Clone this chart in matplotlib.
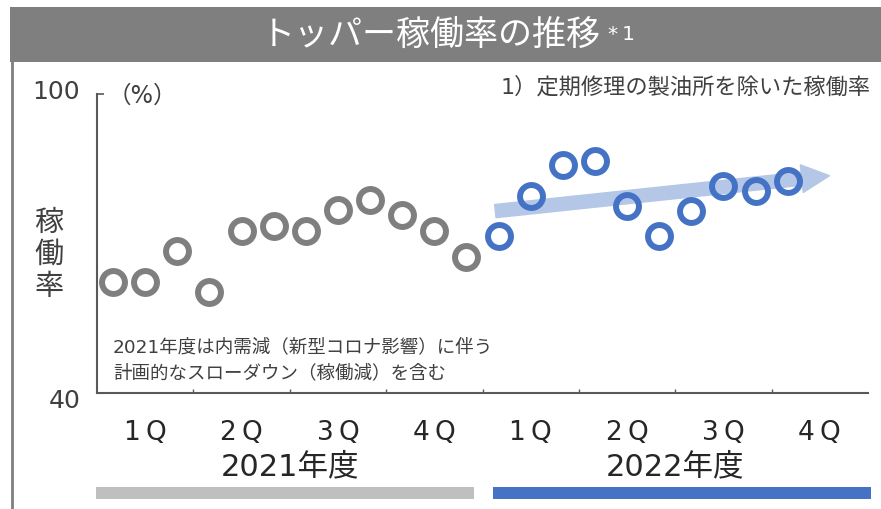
import matplotlib
matplotlib.use("Agg")
import matplotlib.pyplot as plt
from matplotlib.patches import Rectangle
from matplotlib.lines import Line2D
from matplotlib.transforms import ScaledTranslation

plt.rcParams['font.family'] = ['DejaVu Sans', 'Noto Sans CJK JP']

# -----------------------
# Data (monthly utilisation, %)
# -----------------------
rate_2021 = [62.3, 62.3, 68.5, 60.3, 72.5, 73.5, 72.5, 76.7, 78.8, 75.7, 72.5, 67.3]
rate_2022 = [71.5, 79.6, 85.8, 86.6, 77.6, 71.5, 76.5, 81.6, 80.6, 82.6]
quarter_labels = ['1\u2009Q', '2\u2009Q', '3\u2009Q', '4\u2009Q'] * 2
year_labels = ['2021年度', '2022年度']
trend_start = (12.4, 76.5)
trend_end = (22.8, 83.6)

GRAY = '#7f7f7f'
BLUE = '#4472c4'
ARROW = '#b4c7e7'
AXIS = '#595959'
TEXT = '#404040'

W, H = 881, 510


def fx(px):
    return px / W


def fy(py):
    return 1 - py / H


fig = plt.figure(figsize=(W / 100, H / 100), dpi=100)

# --- title bar and frame ---
fig.patches.append(Rectangle((fx(10), fy(63)), fx(871), 55 / H, transform=fig.transFigure,
                             facecolor=GRAY, edgecolor='none'))
fig.lines.append(Line2D([fx(11.5), fx(11.5)], [fy(63), 0], transform=fig.transFigure,
                        color=GRAY, linewidth=2))
fig.text(fx(431), fy(36), 'トッパー稼働率の推移', ha='center', va='center',
         color='white', fontsize=24.5, family=['Noto Sans CJK JP'])
fig.text(fx(608), fy(34), '*\u20091', ha='left', va='center', color='white', fontsize=14.5)

# --- axes ---
ax = fig.add_axes([fx(97), fy(394), fx(868 - 97), (394 - 95) / H])
n_months = 24
x21 = [i + 0.5 for i in range(len(rate_2021))]
x22 = [12 + i + 0.5 for i in range(len(rate_2022))]

ax.annotate('', xy=trend_end, xytext=trend_start,
            arrowprops=dict(arrowstyle='simple,head_length=2.0,head_width=2.0,tail_width=0.95',
                            mutation_scale=10, color=ARROW, shrinkA=0, shrinkB=0),
            zorder=1)

ax.plot(x21, rate_2021, 'o', ms=16.5, mew=4.3, mfc='none', mec=GRAY, clip_on=False, zorder=3)
ax.plot(x22, rate_2022, 'o', ms=16.5, mew=4.3, mfc='none', mec=BLUE, clip_on=False, zorder=3)

ax.set_xlim(0, n_months)
ax.set_ylim(40, 100)
for s in ['top', 'right']:
    ax.spines[s].set_visible(False)
for s in ['left', 'bottom']:
    ax.spines[s].set_color(AXIS)
    ax.spines[s].set_linewidth(1.5)

ax.set_yticks([40, 100])
ax.set_yticklabels(['40', '100'])
ax.tick_params(axis='y', direction='in', length=5, width=1.2, color=AXIS,
               labelsize=18, labelcolor=TEXT, pad=12)
# nudge the two value labels like the original layout
for lab, dy in zip(ax.get_yticklabels(), [-5, 5]):
    lab.set_transform(lab.get_transform() + ScaledTranslation(0, dy / 100, fig.dpi_scale_trans))

ax.set_xticks(range(3, n_months, 3))
ax.set_xticklabels([])
ax.set_xticks([q * 3 + 1.5 for q in range(8)], minor=True)
ax.set_xticklabels(quarter_labels, minor=True)
ax.tick_params(axis='x', which='major', direction='in', length=3, width=1, color=AXIS)
ax.tick_params(axis='x', which='minor', length=0, labelsize=19, labelcolor='#262626', pad=19)

xt = ax.get_xaxis_transform()
for i, lab in enumerate(year_labels):
    ax.text(6 + 12 * i, -0.244, lab, transform=xt, ha='center', va='center',
            fontsize=22, color='#262626')
ax.add_patch(Rectangle((-0.03, -0.355), 11.76, 0.04, transform=xt, clip_on=False,
                       facecolor='#bfbfbf', edgecolor='none'))
ax.add_patch(Rectangle((12.33, -0.355), 11.77, 0.04, transform=xt, clip_on=False,
                       facecolor=BLUE, edgecolor='none'))

# --- annotations ---
fig.text(fx(142), fy(96), '（%）', ha='center', va='center', fontsize=17, color=TEXT)
fig.text(fx(871), fy(87), '1）定期修理の製油所を除いた稼働率', ha='right', va='center',
         fontsize=16, color=TEXT)
for i, ch in enumerate('稼働率'):
    fig.text(fx(49), fy(223 + 32 * i), ch, ha='center', va='center', fontsize=21, color=TEXT)
fig.text(fx(113), fy(347), '2021年度は内需減（新型コロナ影響）に伴う', ha='left', va='center',
         fontsize=13.3, color=TEXT)
fig.text(fx(113), fy(373), '計画的なスローダウン（稼働減）を含む', ha='left', va='center',
         fontsize=13.3, color=TEXT)

fig.savefig('out.png', dpi=100)
